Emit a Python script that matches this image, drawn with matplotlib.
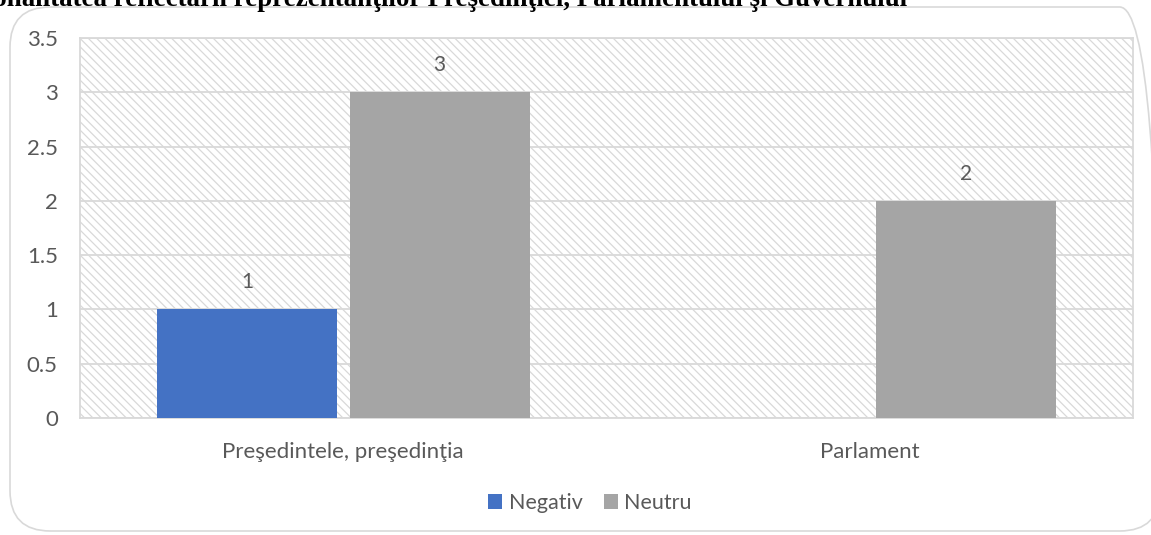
import numpy as np
import matplotlib
matplotlib.use('Agg')
import matplotlib.pyplot as plt
from matplotlib.patches import Rectangle, FancyBboxPatch, Patch

# date
categories = ['Preşedintele, preşedinţia', 'Parlament']
series_names = ['Negativ', 'Neutru']
negativ = [1, np.nan]
neutru = [3, 2]
yticks = [0, 0.5, 1, 1.5, 2, 2.5, 3, 3.5]
title = 'Tonalitatea reflectării reprezentanţilor Preşedinţiei, Parlamentului şi Guvernului'

colors = ['#4472C4', '#A5A5A5']
text_color = '#595959'
grid_color = '#D9D9D9'

W, H = 1151, 535
plt.rcParams['font.family'] = ['Lato', 'DejaVu Sans']
plt.rcParams['hatch.linewidth'] = 0.9
plt.rcParams['hatch.color'] = '#D9D9D9'

fig = plt.figure(figsize=(W / 100, H / 100), dpi=100)

# chenarul rotunjit al graficului
frame = FancyBboxPatch((10 / W, 1 - 531 / H), 1150 / W, 524 / H,
                       boxstyle='round,pad=0,rounding_size=0.035',
                       transform=fig.transFigure, facecolor='none',
                       edgecolor='#D9D9D9', linewidth=1.2, zorder=-1,
                       mutation_aspect=W / H)
fig.patches.append(frame)

# titlul taiat sus
fig.text(907 / W, 1 - 6 / H, title, ha='right', va='baseline',
         family='Liberation Serif', fontweight='bold', fontsize=19.4, color='black')

ax = fig.add_axes([80 / W, 1 - 418 / H, 1053 / W, 380 / H])
ax.patch.set_alpha(0)

# fundal hasurat
bg = Rectangle((0, 0), 1, 1, transform=ax.transAxes, facecolor='white',
               edgecolor='#D9D9D9', hatch='\\\\\\\\', linewidth=0, zorder=0)
ax.add_patch(bg)

x = np.arange(len(categories))
width = 0.342
offset = 0.183
b1 = ax.bar(x - offset, negativ, width, color=colors[0], zorder=3)
b2 = ax.bar(x + offset, neutru, width, color=colors[1], zorder=3)

for bars in (b1, b2):
    for bar in bars:
        h = bar.get_height()
        if np.isnan(h):
            continue
        ax.annotate(f'{h:g}', (bar.get_x() + bar.get_width() / 2, h),
                    xytext=(0, 27), textcoords='offset pixels',
                    ha='center', va='center', fontsize=15, color=text_color)

ax.set_xlim(-0.5, 1.5)
ax.set_ylim(0, 3.5)
ax.set_yticks(yticks)
ax.set_yticklabels([f'{t:g}' for t in yticks])
ax.set_xticks(x)
ax.set_xticklabels(categories)
ax.tick_params(axis='both', length=0, labelsize=16, colors=text_color)
ax.tick_params(axis='y', pad=16)
ax.tick_params(axis='x', pad=17)
ax.grid(axis='y', color=grid_color, linewidth=1.3, zorder=1)
ax.set_axisbelow(True)
for s in ax.spines.values():
    s.set_color(grid_color)
    s.set_linewidth(1.3)

handles = [Patch(facecolor=c, edgecolor='none') for c in colors]
fig.legend(handles, series_names, loc='center', bbox_to_anchor=(590 / W, 1 - 503 / H),
           ncol=2, frameon=False, fontsize=15.5, handlelength=0.65, handleheight=0.65,
           handletextpad=0.3, columnspacing=1.0, labelcolor=text_color)

fig.savefig('out.png', dpi=100, facecolor='white')
